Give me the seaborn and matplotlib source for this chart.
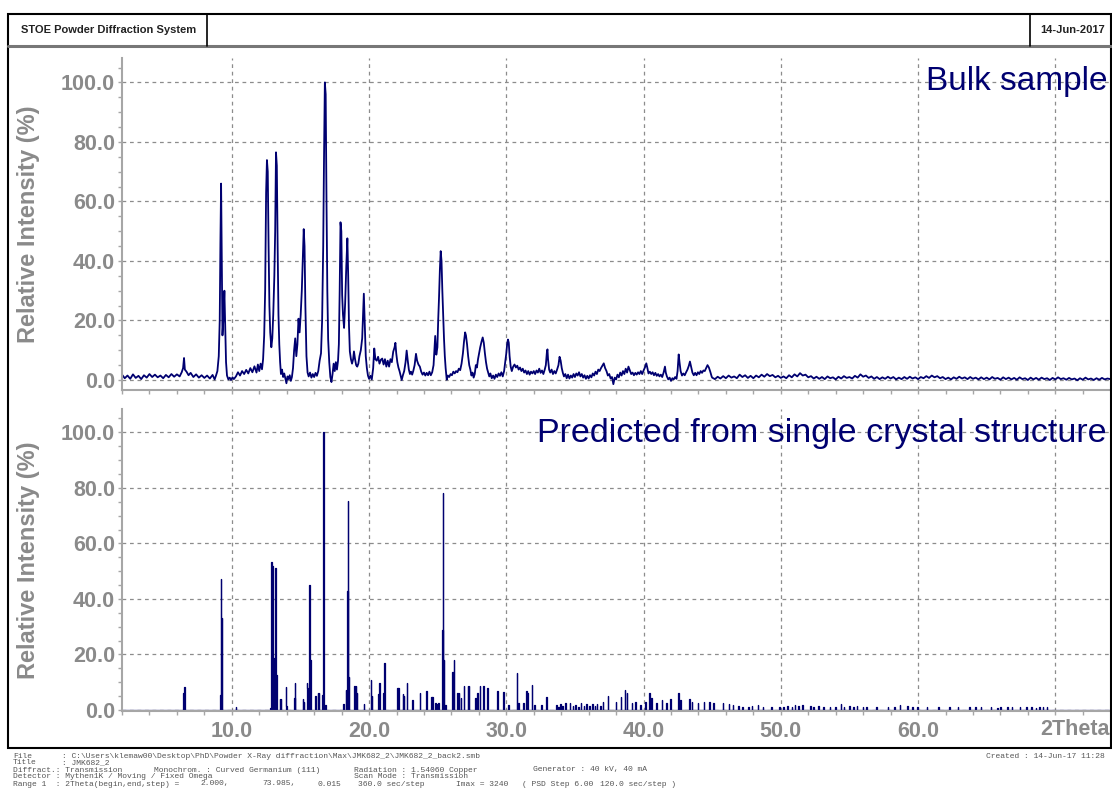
import numpy as np
import matplotlib
matplotlib.use("Agg")
import matplotlib.pyplot as plt
from matplotlib.lines import Line2D
from matplotlib.patches import Rectangle
from matplotlib.ticker import MultipleLocator, FormatStrFormatter, FuncFormatter
import seaborn as sns

# ---------------------------------------------------------------------------
# Measured bulk pattern (2Theta in degrees, relative intensity in %)
# ---------------------------------------------------------------------------
bulk_low = [
    (2.0, 1.8), (2.2, 0.6), (2.4, 1.5), (2.6, 0.4), (2.8, 1.9), (3.0, 0.7), (3.2, 1.4), (3.4, 0.3),
    (3.6, 1.6), (3.8, 0.8), (4.0, 2.0), (4.2, 1.0), (4.4, 1.8), (4.6, 0.9), (4.8, 1.5), (5.0, 0.6),
    (5.2, 1.7), (5.4, 0.9), (5.6, 2.0), (5.8, 1.1), (6.0, 1.9), (6.2, 1.2), (6.35, 2.6), (6.45, 4.0),
    (6.52, 7.4), (6.58, 3.5), (6.7, 2.8), (6.85, 1.6), (7.0, 2.4), (7.2, 1.0), (7.4, 1.9), (7.6, 0.8),
    (7.8, 1.6), (8.0, 0.7), (8.2, 1.5), (8.4, 0.5), (8.6, 1.7), (8.75, 0.2), (8.85, 1.5),
    (8.95, 3.0), (9.05, 8.0), (9.12, 20), (9.17, 46), (9.22, 66), (9.27, 40), (9.32, 15), (9.38, 20),
    (9.46, 30), (9.52, 18), (9.58, 6), (9.65, 1.5), (9.75, 0.2), (9.85, 0.8), (9.95, 0.0), (10.05, 0.9),
    (10.15, 0.3), (10.3, 1.2), (10.45, 2.6), (10.6, 1.5), (10.75, 3.0), (10.9, 2.0), (11.05, 3.4),
    (11.2, 2.2), (11.35, 4.0), (11.5, 2.6), (11.65, 4.6), (11.8, 2.5), (11.9, 5.2), (12.0, 3.0),
    (12.1, 5.5), (12.2, 3.6), (12.28, 7), (12.36, 15), (12.43, 30), (12.5, 63), (12.56, 73.9),
    (12.62, 70), (12.68, 45), (12.74, 25), (12.8, 16), (12.88, 11), (12.95, 14), (13.02, 22),
    (13.1, 35), (13.16, 50), (13.22, 76.5), (13.28, 72), (13.34, 45), (13.4, 22), (13.46, 12),
    (13.52, 6), (13.58, 2), (13.66, 3.5), (13.74, 1.0), (13.82, 2.2), (13.9, 0.5), (13.98, -1.1),
    (14.06, 1.2), (14.14, 0.3), (14.22, 1.6), (14.3, -0.3), (14.38, 1.0), (14.46, 4), (14.54, 10),
    (14.62, 14), (14.7, 8), (14.78, 12), (14.86, 20.6), (14.94, 16), (15.02, 22), (15.1, 30),
    (15.18, 42), (15.24, 50.7), (15.3, 45), (15.36, 25), (15.44, 8), (15.52, 2.5), (15.6, 1.2),
    (15.7, 2.5), (15.8, 0.8), (15.9, 2.0), (16.0, 1.0), (16.1, 2.4), (16.2, 1.4), (16.3, 3.0),
    (16.4, 6.5), (16.5, 9), (16.58, 20), (16.66, 45), (16.72, 75), (16.78, 100), (16.84, 96),
    (16.9, 60), (16.96, 30), (17.02, 13.7), (17.1, 6), (17.18, 1.0), (17.26, -0.7), (17.34, 2.0),
    (17.42, 5.5), (17.5, 3.0), (17.58, 6.0), (17.66, 3.5), (17.74, 6.5), (17.8, 12), (17.86, 30),
    (17.92, 53), (17.98, 50), (18.04, 28.6), (18.1, 22), (18.18, 17.5), (18.26, 26), (18.34, 38),
    (18.42, 47.6), (18.48, 35), (18.54, 18), (18.6, 9.6), (18.68, 7), (18.76, 5.5), (18.84, 7.0),
    (18.9, 9.6), (18.98, 7), (19.06, 5), (19.14, 4.5), (19.22, 5.5), (19.3, 8), (19.4, 10),
    (19.5, 14), (19.56, 22), (19.62, 29), (19.68, 20), (19.76, 8), (19.84, 4), (19.92, 1.5),
    (20.0, 0.4), (20.1, 1.4), (20.2, 0.2), (20.3, 4), (20.38, 10.6), (20.46, 7), (20.56, 6.5),
    (20.66, 7.8), (20.76, 5.5), (20.86, 6.8), (20.96, 7.2), (21.06, 5.2), (21.16, 7), (21.26, 4.5),
    (21.36, 6.5), (21.46, 4.5), (21.56, 7.0), (21.66, 6.0), (21.76, 9.5), (21.86, 11), (21.92, 12.5),
    (21.98, 9), (22.06, 6), (22.14, 4.2), (22.22, 3), (22.3, 1.5), (22.38, 0.0), (22.46, 1.5),
    (22.56, 3.0), (22.66, 6), (22.74, 9.9), (22.82, 6.5), (22.9, 3.5), (22.98, 2.0), (23.06, 2.8),
    (23.14, 1.8), (23.22, 3.0), (23.32, 5), (23.42, 8.8), (23.5, 6.5), (23.6, 5.2), (23.7, 4.5),
    (23.8, 2.8), (23.9, 1.8), (24.0, 2.5), (24.1, 1.5), (24.2, 2.4), (24.3, 1.6), (24.4, 2.8),
    (24.5, 1.6), (24.6, 2.6), (24.7, 5), (24.76, 10), (24.82, 14.8), (24.9, 8.5), (24.98, 11),
    (25.04, 20.4), (25.1, 28), (25.16, 37), (25.22, 43.3), (25.28, 40), (25.34, 30), (25.4, 22),
    (25.46, 14), (25.52, 8), (25.58, 4), (25.66, 0.1), (25.74, 1.5), (25.84, 1.0), (25.94, 2.0),
    (26.04, 1.6), (26.14, 2.8), (26.24, 2.2), (26.34, 3.0), (26.44, 2.6), (26.54, 3.8), (26.64, 3.3),
    (26.74, 5.5), (26.84, 9.0), (26.92, 13), (27.0, 16), (27.06, 15), (27.14, 12), (27.22, 8),
    (27.3, 5), (27.38, 3.5), (27.46, 1.5), (27.54, 2.5), (27.62, 0.8), (27.7, 2.0), (27.78, 5),
    (27.86, 4.2), (27.94, 7), (28.02, 9), (28.1, 11), (28.2, 13), (28.28, 14.3), (28.36, 12.5),
    (28.44, 9), (28.52, 6), (28.6, 3.8), (28.68, 2.5), (28.76, 1.2), (28.84, 2.2), (28.94, 0.6),
    (29.04, 1.5), (29.14, 0.4), (29.24, 1.8), (29.34, 1.0), (29.44, 2.2), (29.54, 1.4), (29.64, 2.6),
    (29.74, 1.2), (29.84, 3.0), (29.92, 6), (30.0, 9), (30.06, 12), (30.12, 13.6), (30.18, 12.5),
    (30.24, 8), (30.32, 4.5), (30.4, 3.0),
]

bulk_mid = [
    (30.5, 4.5), (30.6, 5.2), (30.7, 4.2), (30.8, 4.8), (30.9, 3.5), (31.0, 4.2), (31.1, 3.0),
    (31.2, 3.8), (31.3, 2.5), (31.4, 3.2), (31.5, 2.0), (31.6, 3.0), (31.7, 1.8), (31.8, 2.8),
    (31.9, 2.2), (32.0, 3.0), (32.1, 2.0), (32.2, 3.2), (32.3, 2.5), (32.4, 3.8), (32.5, 2.4),
    (32.6, 3.2), (32.7, 2.0), (32.8, 3.5), (32.88, 5), (32.96, 9.5), (33.0, 10.3), (33.04, 7),
    (33.12, 3.5), (33.2, 2.5), (33.3, 3.5), (33.4, 2.0), (33.5, 3.0), (33.6, 2.2), (33.7, 3.5),
    (33.8, 5), (33.88, 7.8), (33.96, 6.5), (34.04, 4), (34.12, 2.4), (34.2, 1.2), (34.3, 2.0),
    (34.4, 0.6), (34.5, 1.8), (34.6, 0.5), (34.7, 1.5), (34.8, 0.8), (34.9, 2.0), (35.0, 1.0),
    (35.1, 2.2), (35.2, 1.5), (35.3, 2.6), (35.4, 1.2), (35.5, 2.0), (35.6, 0.8), (35.7, 1.6),
    (35.8, 0.4), (35.9, 1.4), (36.0, 0.5), (36.1, 1.6), (36.2, 0.9), (36.3, 2.2), (36.4, 1.5),
    (36.5, 2.8), (36.6, 2.0), (36.7, 3.5), (36.8, 3.0), (36.9, 4.0), (37.0, 4.8), (37.1, 5.6),
    (37.2, 4.0), (37.3, 3.0), (37.4, 1.5), (37.5, 2.0), (37.6, 0.5), (37.7, 1.0), (37.8, -1.4),
    (37.9, 0.8), (38.0, 0.2), (38.1, 1.8), (38.2, 0.9), (38.3, 2.5), (38.4, 1.5), (38.5, 3.0),
    (38.6, 2.0), (38.7, 3.8), (38.8, 2.5), (38.9, 4.5), (39.0, 3.2), (39.1, 2.0), (39.2, 2.5),
    (39.3, 1.6), (39.4, 2.4), (39.5, 1.8), (39.6, 2.6), (39.7, 2.0), (39.8, 3.0), (39.9, 2.0),
    (40.0, 3.2), (40.1, 4.2), (40.2, 5.6), (40.28, 4), (40.36, 2.2), (40.46, 2.8), (40.56, 2.0),
    (40.66, 2.6), (40.76, 1.6), (40.86, 2.4), (40.96, 1.4), (41.06, 2.0), (41.16, 1.2), (41.26, 1.8),
    (41.36, 1.0), (41.46, 2.5), (41.56, 4.5), (41.62, 2.5), (41.7, 1.2), (41.8, 0.2), (41.9, 0.8),
    (42.0, -0.3), (42.1, 0.6), (42.2, 0.2), (42.3, 1.0), (42.4, 0.4), (42.48, 3), (42.56, 8.6),
    (42.62, 6), (42.7, 3), (42.8, 1.5), (42.9, 2.2), (43.0, 1.6), (43.1, 2.6), (43.2, 3.5),
    (43.3, 4.8), (43.38, 6.2), (43.46, 4.5), (43.56, 2.5), (43.66, 1.6), (43.76, 2.4), (43.86, 1.6),
    (43.96, 2.6), (44.06, 2.0), (44.16, 3.0), (44.26, 2.4), (44.36, 3.2), (44.46, 3.0), (44.56, 4.0),
    (44.66, 5.0), (44.76, 4.2), (44.86, 2.8), (44.96, 1.2),
]

# High-angle tail, sampled every 0.2 deg from 45.0 to 74.0
tail_2theta = np.linspace(45.0, 74.0, 146)
tail_intensity = [
    0.8, 0.3, 1.1, 0.5, 1.3, 0.6, 1.5, 0.8, 1.2, 0.6,
    1.8, 1.0, 1.6, 0.7, 1.4, 0.6, 1.5, 0.9, 1.8, 1.1,
    2.0, 1.3, 1.7, 0.9, 1.4, 0.7, 1.2, 0.6, 1.6, 0.9,
    1.9, 1.2, 2.3, 1.5, 1.8, 0.9, 1.3, 0.5, 1.1, 0.4,
    1.0, 0.3, 1.2, 0.6, 0.9, 0.2, 1.1, 0.5, 1.3, 0.7,
    1.0, 0.5, 1.4, 0.8, 1.9, 1.1, 1.5, 0.7, 1.2, 0.4,
    1.0, 0.3, 0.9, 0.4, 1.1, 0.5, 1.0, 0.2, 0.8, 0.3,
    1.0, 0.4, 1.1, 0.5, 0.9, 0.3, 1.0, 0.6, 1.3, 0.7,
    1.5, 0.9, 1.3, 0.6, 1.0, 0.3, 0.8, 0.2, 0.9, 0.4,
    1.1, 0.5, 0.9, 0.3, 1.0, 0.4, 0.8, 0.2, 0.9, 0.3,
    0.8, 0.2, 1.0, 0.4, 0.7, 0.1, 0.9, 0.3, 0.8, 0.2,
    0.7, 0.1, 0.9, 0.3, 0.6, 0.0, 0.8, 0.2, 0.7, 0.1,
    0.8, 0.3, 0.6, 0.0, 0.7, 0.2, 0.9, 0.3, 0.6, 0.1,
    0.7, 0.2, 0.5, -0.1, 0.6, 0.1, 0.8, 0.2, 0.5, 0.0,
    0.6, 0.1, 0.7, 0.2, 0.5, 0.3,
]

# ---------------------------------------------------------------------------
# Reflections calculated from the single crystal structure (2Theta, %)
# ---------------------------------------------------------------------------
pred_peaks = [
    (6.50, 6.2), (6.55, 8.2), (9.16, 5.4), (9.22, 47.2), (9.29, 33.0), (10.31, 1.2),
    (12.80, 0.6), (12.85, 0.6), (12.91, 53.2), (12.98, 52.0), (13.10, 18.8), (13.20, 51.0),
    (13.25, 12.6), (13.52, 3.8), (13.57, 3.8), (13.96, 8.2), (14.00, 1.5), (14.58, 4.5),
    (14.62, 9.8), (15.20, 3.8), (15.26, 3.0), (15.48, 9.6), (15.53, 8.0), (15.68, 45.0),
    (15.75, 18.0), (16.10, 5.0), (16.27, 6.0), (16.36, 6.0), (16.60, 5.4), (16.68, 100.0),
    (16.82, 1.8), (18.13, 2.0), (18.33, 7.2), (18.42, 42.9), (18.47, 75.3), (18.53, 12.0),
    (18.93, 8.8), (19.05, 8.8), (19.12, 6.0), (19.64, 2.0), (20.15, 10.8), (20.22, 5.0),
    (20.68, 5.6), (20.75, 9.8), (21.05, 6.0), (21.12, 16.8), (22.07, 8.0), (22.16, 8.0),
    (22.46, 5.8), (22.56, 5.0), (22.75, 9.6), (23.15, 3.6), (23.72, 6.0), (24.20, 7.0),
    (24.55, 4.8), (24.62, 4.8), (24.85, 2.4), (24.95, 2.0), (25.05, 2.4), (25.35, 28.8),
    (25.40, 78.0), (25.45, 18.0), (25.55, 1.8), (26.10, 13.8), (26.20, 18.0), (26.45, 6.0),
    (26.55, 6.0), (26.70, 4.2), (26.93, 8.8), (27.20, 8.8), (27.27, 8.8), (27.75, 4.2),
    (27.92, 6.0), (28.09, 8.8), (28.29, 8.8), (28.34, 8.8), (28.63, 7.8), (29.35, 6.8),
    (29.80, 6.6), (30.15, 1.8), (30.77, 13.2), (30.90, 2.4), (31.25, 2.6), (31.48, 7.0),
    (31.55, 6.0), (31.87, 9.0), (32.05, 1.8), (32.55, 1.8), (32.94, 4.8), (33.65, 1.8),
    (33.80, 1.2), (33.93, 2.2), (34.10, 1.4), (34.30, 2.4), (34.64, 2.6), (34.85, 1.5),
    (35.06, 1.8), (35.25, 1.2), (35.43, 2.4), (35.65, 1.5), (35.83, 2.0), (36.05, 1.6),
    (36.28, 2.2), (36.45, 1.3), (36.62, 2.0), (36.85, 1.6), (37.04, 3.0), (37.40, 5.0),
    (37.98, 3.0), (38.36, 4.8), (38.64, 7.2), (38.78, 6.0), (39.15, 2.4), (39.43, 3.0),
    (39.77, 1.8), (40.14, 3.0), (40.42, 6.0), (40.56, 4.2), (40.93, 2.4), (41.35, 3.6),
    (41.69, 2.4), (41.98, 3.8), (42.55, 6.0), (42.69, 3.6), (43.34, 3.8), (43.54, 3.0),
    (43.96, 2.4), (44.39, 3.0), (44.81, 3.0), (45.10, 2.4), (45.80, 2.4), (46.23, 2.0),
    (46.51, 1.8), (46.93, 1.5), (47.20, 1.0), (47.64, 1.2), (47.90, 1.3), (48.35, 1.8),
    (48.70, 1.0), (49.34, 1.2), (49.90, 1.2), (50.20, 1.0), (50.47, 1.4), (50.80, 1.2),
    (51.04, 1.8), (51.30, 1.3), (51.60, 1.8), (52.17, 1.5), (52.40, 1.0), (52.73, 1.4),
    (53.10, 1.0), (53.58, 1.2), (54.00, 1.2), (54.37, 2.0), (54.60, 1.0), (54.99, 1.4),
    (55.30, 1.0), (55.56, 1.5), (56.00, 1.1), (56.26, 1.2), (56.97, 1.2), (57.82, 1.0),
    (58.30, 1.2), (58.67, 1.8), (59.23, 1.4), (59.60, 1.0), (59.94, 1.2), (60.65, 1.2),
    (61.50, 1.0), (62.30, 1.0), (62.91, 1.0), (63.76, 1.0), (64.20, 1.0), (64.60, 1.0),
    (65.31, 1.0), (65.80, 0.9), (66.02, 1.0), (66.50, 1.0), (66.86, 1.0), (67.43, 1.0),
    (67.90, 1.0), (68.28, 1.0), (68.60, 0.9), (68.84, 1.0), (69.10, 1.0), (69.41, 1.0),
]

x_range = (2.0, 73.985)
y_ticks = [0, 20, 40, 60, 80, 100]
x_ticks = [10, 20, 30, 40, 50, 60, 70]

header_left = "STOE Powder Diffraction System"
header_right = "14-Jun-2017"
panel_titles = ["Bulk sample", "Predicted from single crystal structure"]
y_title = "Relative Intensity (%)"
x_title = "2Theta"

footer_rows = [
    [(13, "File"), (62, ": C:\\Users\\klemaw00\\Desktop\\PhD\\Powder X-Ray diffraction\\Max\\JMK682_2\\JMK682_2_back2.smb")],
    [(13, "Title"), (62, ": JMK682_2")],
    [(13, "Diffract.: Transmission"), (154, "Monochrom. : Curved Germanium (111)"),
     (354, "Radiation : 1.54060 Copper"), (533, "Generator : 40 kV, 40 mA")],
    [(13, "Detector : Mythen1K / Moving / Fixed Omega"), (354, "Scan Mode : Transmission")],
    [(13, "Range 1  : 2Theta(begin,end,step) ="), (200, "2.000,"), (262, "73.985,"),
     (318, "0.015"), (358, "360.0 sec/step"), (456, "Imax = 3240"),
     (522, "( PSD Step 6.00"), (600, "120.0 sec/step )")],
]
footer_created = "Created : 14-Jun-17 11:28"

# ---------------------------------------------------------------------------
# Figure
# ---------------------------------------------------------------------------
sns.set_theme(style="white")
plt.rcParams['font.family'] = ['Liberation Sans', 'DejaVu Sans']

W, H = 1112, 791
fig = plt.figure(figsize=(W / 100, H / 100), dpi=100)
fig.patch.set_facecolor('white')


def fx(px):
    return px / W


def fy(py):
    return 1 - py / H


NAVY = '#000070'
GREY = '#8a8a8a'
AXIS_GREY = '#a6a6a6'

ax_top = fig.add_axes([fx(122), fy(390), fx(1110) - fx(122), fy(58) - fy(390)])
ax_bot = fig.add_axes([fx(122), fy(711), fx(1110) - fx(122), fy(409) - fy(711)])

# bulk trace
low = np.array(bulk_low, dtype=float)
mid = np.array(bulk_mid, dtype=float)
top_x = np.concatenate([low[:, 0], mid[:, 0], tail_2theta])
top_y = np.concatenate([low[:, 1], mid[:, 1], np.array(tail_intensity, dtype=float)])
sns.lineplot(x=top_x, y=top_y, ax=ax_top, sort=False, estimator=None,
             color=NAVY, linewidth=1.3)

# calculated pattern as narrow step profiles
half_w = 0.02
stick_x, stick_y = [x_range[0]], [0.0]
for pos, h in sorted(pred_peaks):
    stick_x += [pos - half_w, pos - half_w, pos + half_w, pos + half_w]
    stick_y += [0.0, h, h, 0.0]
stick_x.append(x_range[1])
stick_y.append(0.0)
sns.lineplot(x=np.array(stick_x), y=np.array(stick_y), ax=ax_bot, sort=False,
             estimator=None, color=NAVY, linewidth=0.9)


def x_label(v, pos):
    if v < 5 or v > 65:
        return ""
    return f"{v:.1f}"


def style_axes(ax, ylim, show_x):
    ax.set_xlim(*x_range)
    ax.set_ylim(*ylim)
    ax.set_axisbelow(True)
    for s in ('top', 'right'):
        ax.spines[s].set_visible(False)
    for s in ('left', 'bottom'):
        ax.spines[s].set_color(AXIS_GREY)
        ax.spines[s].set_linewidth(1.5)
    ax.set_xticks(x_ticks)
    ax.xaxis.set_minor_locator(MultipleLocator(2))
    ax.set_yticks(y_ticks)
    ax.yaxis.set_minor_locator(MultipleLocator(5))
    ax.yaxis.set_major_formatter(FormatStrFormatter('%.1f'))
    ax.xaxis.set_major_formatter(FuncFormatter(x_label))
    ax.tick_params(which='both', direction='out', color=AXIS_GREY, length=3, width=1,
                   left=True, bottom=True)
    ax.tick_params(axis='y', labelsize=15.5, labelcolor=GREY, pad=2)
    ax.tick_params(axis='x', labelsize=15.5, labelcolor=GREY, pad=4, labelbottom=show_x)
    for lab in ax.get_yticklabels() + ax.get_xticklabels():
        lab.set_fontweight('bold')
    ax.grid(True, which='major', linestyle=(0, (3, 3)), color='#8c8c8c', linewidth=0.9)
    ax.set_xlabel('')
    ax.set_ylabel(y_title, fontsize=17, fontweight='bold', color=GREY)
    ax.yaxis.set_label_coords(-0.083, 0.5)


style_axes(ax_top, (-3.36, 108.2), False)
style_axes(ax_bot, (-0.36, 108.4), True)

ax_bot.text(1.0, -0.025, x_title, transform=ax_bot.transAxes, ha='right', va='top',
            fontsize=15.5, fontweight='bold', color=GREY)

ax_top.text(0.997, 0.929, panel_titles[0], transform=ax_top.transAxes, ha='right',
            va='center', fontsize=24, color=NAVY)
ax_bot.text(0.997, 0.919, panel_titles[1], transform=ax_bot.transAxes, ha='right',
            va='center', fontsize=24.5, color=NAVY)

# page frame and header box
fig.add_artist(Rectangle((fx(8), fy(748)), fx(1110.5) - fx(8), fy(14) - fy(748),
                         transform=fig.transFigure, fill=False, ec='black', lw=1.5))
fig.add_artist(Line2D([fx(8), fx(1110.5)], [fy(46), fy(46)], transform=fig.transFigure,
                      color='#777777', lw=2.2))
for xd in (207, 1030):
    fig.add_artist(Line2D([fx(xd), fx(xd)], [fy(14), fy(46)], transform=fig.transFigure,
                          color='black', lw=1.2))
fig.text(fx(21), fy(30), header_left, ha='left', va='center', fontsize=8,
         fontweight='bold', color='#222222')
fig.text(fx(1040), fy(30), header_right, ha='left', va='center', fontsize=8,
         fontweight='bold', color='#222222')

# footer with acquisition details
for i, row in enumerate(footer_rows):
    y = 756 + 7 * i
    for xpos, txt in row:
        fig.text(fx(xpos), fy(y), txt, ha='left', va='center', fontsize=5.8,
                 family='Liberation Mono', color='#555555')
fig.text(fx(1105), fy(756), footer_created, ha='right', va='center', fontsize=5.8,
         family='Liberation Mono', color='#555555')

fig.savefig('out.png', dpi=100, facecolor='white')
